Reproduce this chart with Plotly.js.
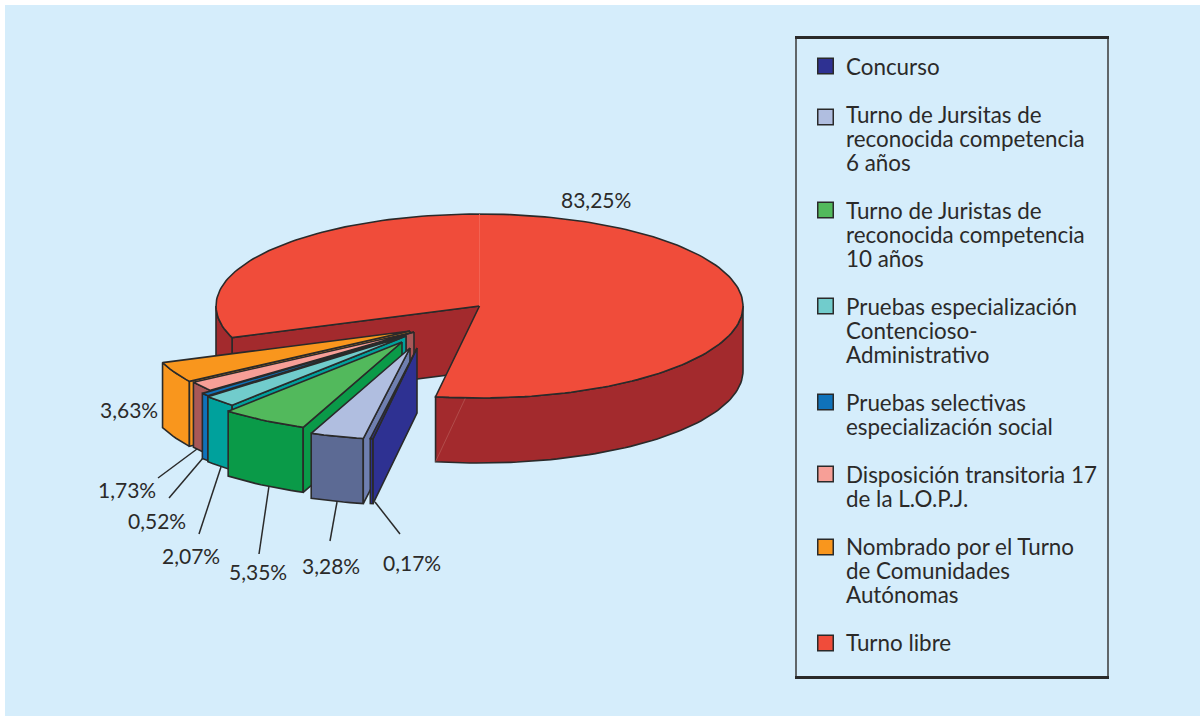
<!DOCTYPE html>
<html>
<head>
<meta charset="utf-8">
<script src="https://cdn.plot.ly/plotly-3.0.1.min.js"></script>
<style>html,body{margin:0;padding:0;background:#fff}#chart{width:1200px;height:716px}</style>
</head>
<body>
<div id="chart"></div>
<script>
// ---- data ----
var categories = [
  "Concurso",
  "Turno de Jursitas de\nreconocida competencia\n6 años",
  "Turno de Juristas de\nreconocida competencia\n10 años",
  "Pruebas especialización\nContencioso-\nAdministrativo",
  "Pruebas selectivas\nespecialización social",
  "Disposición transitoria 17\nde la L.O.P.J.",
  "Nombrado por el Turno\nde Comunidades\nAutónomas",
  "Turno libre"
];
var shares = [0.17, 3.28, 5.35, 2.07, 0.52, 1.73, 3.63, 83.25];
var shareLabels = ["0,17%", "3,28%", "5,35%", "2,07%", "0,52%", "1,73%", "3,63%", "83,25%"];

// ---- styles ----
var topColors  = ["#2E3192", "#B0BEE0", "#52B95C", "#71CCCC", "#0F72BA", "#F79F97", "#F9961D", "#F04C3A"];
var wallColors = ["#2E3192", "#5C6A94", "#0A9A48", "#00A19C", "#0F72BA", "#A85858", "#F9961D", "#A32A2D"];
var cutColors  = ["#2E3192", "#6F7FB0", "#0A9A48", "#00A19C", "#0F72BA", "#A85858", "#F9961D", "#A32A2D"];
var explodeX = [-62.5, -69.5, -77.5, -73.5, -73.5, -65.5, -69.5, 0];
var explodeY = [ 42,  42,  36,  30,  29,  26,  25, 0];
var labelX = [412, 331, 258, 191, 157, 127, 129, 596];
var labelY = [562, 565, 571, 555, 520, 489, 409, 199];
var leaderFromX = [375, 337, 269, 221, 203, 197];
var leaderFromY = [502, 502, 486, 467, 458, 449];
var leaderToX   = [400, 330, 259, 199, 169, 158];
var leaderToY   = [534, 541, 554, 534, 498, 478];
var swatchNudge = [0, 3, 0, 0, 0, 0, 1, 1];

var CX = 479.5, CY = 306, RX = 263.5, RY = 92, DEPTH = 65, START = 9.6;
var INK = "#2a2a2a", BG = "#D5EDFB", TXT = "#2b2a29";
var FONT = "Lato, 'Open Sans', sans-serif";

// ---- geometry derived from the shares ----
// angle t runs clockwise from the bottom of the ellipse
function pt(t, ox, oy, dz) {
  var a = t * Math.PI / 180;
  return [CX + ox - RX * Math.sin(a), CY + oy + RY * Math.cos(a) + (dz || 0)];
}
function arc(t0, t1, ox, oy, dz) {
  var n = Math.max(2, Math.ceil(Math.abs(t1 - t0) / 1.5)), out = [];
  for (var i = 0; i <= n; i++) out.push(pt(t0 + (t1 - t0) * i / n, ox, oy, dz));
  return out;
}
var traces = [];
function poly(points, fill, stroke, width) {
  var p = points.concat([points[0]]);
  traces.push({
    type: "scatter", mode: "lines", x: p.map(function (q) { return q[0]; }), y: p.map(function (q) { return q[1]; }),
    fill: "toself", fillcolor: fill, line: { color: stroke === undefined ? INK : stroke, width: width === undefined ? 1.6 : width },
    hoverinfo: "skip", showlegend: false
  });
}
function seg(a, b, color, width) {
  traces.push({ type: "scatter", mode: "lines", x: [a[0], b[0]], y: [a[1], b[1]],
    line: { color: color, width: width }, hoverinfo: "skip", showlegend: false });
}
var total = shares.reduce(function (s, v) { return s + v; }, 0);
var angle = START, spans = [];
shares.forEach(function (v) { var d = v / total * 360; spans.push([angle, angle + d]); angle += d; });

// main slice (last one) first: it is behind everything
var R = shares.length - 1, r0 = spans[R][0], r1 = spans[R][1];
var rApex = [CX, CY], rApexLow = [CX, CY + DEPTH];
// cut face on the left edge
poly([pt(r0, 0, 0), rApex, rApexLow, pt(r0, 0, 0, DEPTH)], wallColors[R]);
// outer walls (only the parts that face the viewer)
poly(arc(r0, 90, 0, 0).concat(arc(90, r0, 0, 0, DEPTH)), wallColors[R]);
poly(arc(270, r1, 0, 0).concat(arc(r1, 270, 0, 0, DEPTH)), wallColors[R]);
// seam on the outer wall
seg(pt(r1, 0, 0, DEPTH), [pt(r1, 0, 0)[0] + 30, pt(r1, 0, 0)[1] + 1], "#B85A58", 0.7);
// top
poly([rApex].concat(arc(r0, r1, 0, 0)), topColors[R]);
seg([CX, CY - RY], [CX, CY], "#F26A59", 0.8);

// exploded slices, back to front
for (var i = R - 1; i >= 0; i--) {
  var a0 = spans[i][0], a1 = spans[i][1], ox = explodeX[i], oy = explodeY[i];
  var apex = [CX + ox, CY + oy], apexLow = [CX + ox, CY + oy + DEPTH];
  poly(arc(a0, a1, ox, oy).concat(arc(a1, a0, ox, oy, DEPTH)), wallColors[i]);
  poly([apex, pt(a0, ox, oy), pt(a0, ox, oy, DEPTH), apexLow], cutColors[i]);
  poly([apex].concat(arc(a0, a1, ox, oy)), topColors[i]);
}

// legend swatches (positions follow the line count of each label)
var LINE = 24, legendTop = 66, y = legendTop, swY = [], annotations = [];
categories.forEach(function (c, ci) {
  var lines = c.split("\n");
  swY.push(y + swatchNudge[ci]);
  lines.forEach(function (l, k) {
    annotations.push({ xref: "x", yref: "y", x: 844, y: y + k * LINE, text: l, showarrow: false, xanchor: "left", yanchor: "middle",
      font: { family: FONT, size: 22.4, color: TXT } });
  });
  y += (lines.length + 1) * LINE;
});
traces.push({ type: "scatter", mode: "markers", x: categories.map(function () { return 825.5; }), y: swY,
  marker: { symbol: "square", size: 15.5, color: topColors, line: { color: INK, width: 1.5 } },
  hoverinfo: "skip", showlegend: false });

shareLabels.forEach(function (t, i) {
  annotations.push({ xref: "x", yref: "y", x: labelX[i], y: labelY[i], text: t, showarrow: false, xanchor: "center", yanchor: "middle",
    font: { family: FONT, size: 21, color: TXT } });
});

var shapes = [
  { type: "rect", xref: "x", yref: "y", x0: 5, x1: 1200, y0: 5, y1: 716, fillcolor: BG, line: { width: 0 }, layer: "below" },
  { type: "rect", xref: "x", yref: "y", x0: 796, x1: 1108, y0: 37.5, y1: 677.5, fillcolor: "rgba(0,0,0,0)", line: { color: "#3a3a3a", width: 1.5 }, layer: "below" },
  { type: "line", xref: "x", yref: "y", x0: 795, x1: 1109, y0: 37.5, y1: 37.5, line: { color: INK, width: 3 }, layer: "below" },
  { type: "line", xref: "x", yref: "y", x0: 795, x1: 1109, y0: 677.5, y1: 677.5, line: { color: INK, width: 3 }, layer: "below" }
];
leaderFromX.forEach(function (v, i) {
  shapes.push({ type: "line", xref: "x", yref: "y", x0: v, y0: leaderFromY[i], x1: leaderToX[i], y1: leaderToY[i],
    line: { color: INK, width: 1.5 }, layer: "above" });
});

var hidden = { visible: false, fixedrange: true };
Plotly.newPlot("chart", traces, {
  width: 1200, height: 716, margin: { l: 0, r: 0, t: 0, b: 0, pad: 0 },
  paper_bgcolor: "#ffffff", plot_bgcolor: "rgba(0,0,0,0)", showlegend: false,
  xaxis: Object.assign({ range: [0, 1200] }, hidden),
  yaxis: Object.assign({ range: [716, 0] }, hidden),
  shapes: shapes, annotations: annotations
}, { displayModeBar: false, staticPlot: true });
</script>
</body>
</html>
